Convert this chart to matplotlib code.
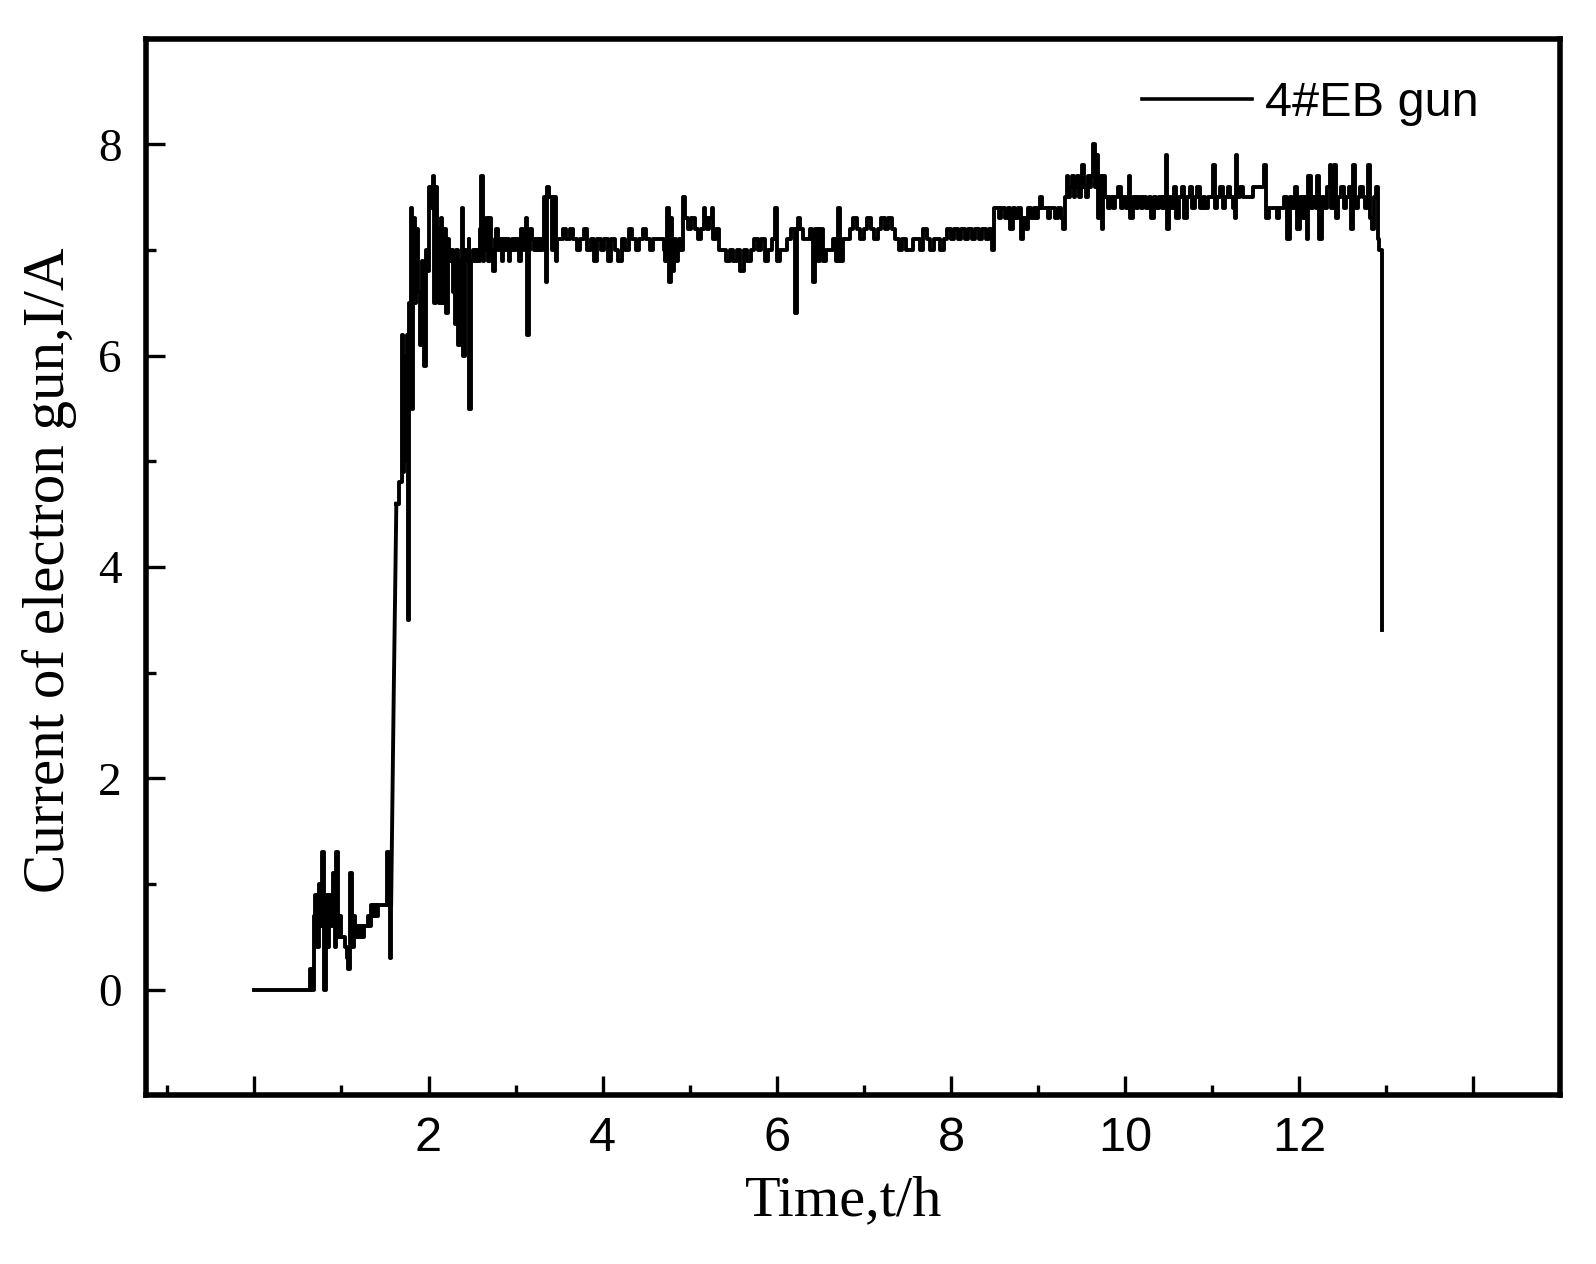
import numpy as np
import matplotlib
matplotlib.use("Agg")
import matplotlib.pyplot as plt
from matplotlib.ticker import FixedLocator

# ---------------- data (time in h, current in A) ----------------
t_start = [0.00, 0.62]
i_start = [0.0, 0.0]

t_warm = [0.64, 0.66, 0.68, 0.70, 0.72, 0.74, 0.76, 0.78, 0.80, 0.82, 0.84, 0.86, 0.88,
          0.90, 0.92, 0.94, 0.96, 0.98, 1.00, 1.02, 1.04, 1.06, 1.08, 1.10, 1.12, 1.14,
          1.16, 1.18, 1.20, 1.22, 1.24, 1.26, 1.28, 1.30, 1.32, 1.34, 1.36, 1.38, 1.40,
          1.42, 1.44, 1.46, 1.48, 1.50, 1.52, 1.54, 1.56, 1.57]
i_warm = [0.2, 0.0, 0.7, 0.9, 0.4, 1.0, 0.6, 1.3, 0.0, 0.9, 0.4, 0.9, 0.6,
          1.1, 0.4, 1.3, 0.5, 0.7, 0.5, 0.5, 0.4, 0.3, 0.2, 1.1, 0.4, 0.7,
          0.5, 0.6, 0.5, 0.6, 0.5, 0.6, 0.6, 0.7, 0.6, 0.8, 0.7, 0.8, 0.7,
          0.8, 0.8, 0.8, 0.8, 0.8, 1.3, 0.8, 0.3, 0.8]

# steep ramp-up of the beam current
t_ramp = [1.57, 1.60, 1.63]
i_ramp = [0.8, 2.8, 4.6]

t_rise = [1.63, 1.66, 1.69, 1.70, 1.71, 1.72, 1.73, 1.75, 1.76, 1.78, 1.80, 1.81,
          1.82, 1.84, 1.86, 1.88, 1.90, 1.92, 1.94, 1.95, 1.97, 1.99, 2.01, 2.03, 2.05,
          2.06, 2.08, 2.10, 2.12, 2.14, 2.16, 2.18, 2.20, 2.22, 2.24, 2.26, 2.28, 2.30,
          2.32, 2.34, 2.36, 2.38, 2.40, 2.42, 2.44, 2.46, 2.47, 2.49, 2.51, 2.53, 2.55,
          2.57, 2.59, 2.60, 2.62, 2.64, 2.66, 2.68, 2.70, 2.72, 2.74, 2.76, 2.78, 2.80,
          2.82, 2.84, 2.86, 2.88, 2.90, 2.92, 2.94, 2.96, 2.98, 3.00, 3.02, 3.04, 3.06,
          3.08, 3.10, 3.12, 3.13, 3.15, 3.17, 3.19, 3.21, 3.23, 3.25, 3.27, 3.29, 3.31,
          3.33, 3.35, 3.36, 3.38, 3.40, 3.42, 3.44, 3.46, 3.48]
i_rise = [4.6, 4.8, 5.0, 6.2, 4.9, 6.0, 5.0, 6.2, 3.5, 6.5, 7.4, 5.5,
          7.3, 6.5, 7.2, 6.6, 6.1, 6.9, 6.7, 5.9, 7.0, 6.8, 7.6, 7.4, 7.7,
          6.5, 7.6, 7.2, 6.5, 7.3, 6.5, 7.2, 6.4, 7.1, 6.9, 7.0, 6.6, 6.3,
          7.0, 6.1, 6.9, 7.4, 6.0, 7.0, 6.9, 7.1, 5.5, 6.9, 7.0, 6.9, 7.0,
          6.9, 7.2, 7.7, 6.9, 7.0, 7.3, 6.9, 7.3, 7.0, 6.8, 7.1, 7.2, 7.0,
          7.1, 6.9, 7.1, 7.0, 7.1, 6.9, 7.0, 7.1, 7.0, 7.1, 7.1, 6.9, 7.2,
          7.0, 7.1, 7.3, 6.2, 7.0, 7.2, 7.1, 7.0, 7.1, 7.0, 7.1, 7.0, 7.1,
          7.5, 6.7, 7.6, 7.5, 7.5, 7.0, 7.5, 6.9, 7.1]

t_mid = [3.50, 3.54, 3.58, 3.62, 3.66, 3.70, 3.74, 3.78, 3.82, 3.86, 3.90, 3.94, 3.98,
         4.02, 4.06, 4.10, 4.14, 4.18, 4.22, 4.26, 4.30, 4.34, 4.38, 4.42, 4.46, 4.50,
         4.54, 4.58, 4.62, 4.66, 4.70, 4.72, 4.74, 4.76, 4.78, 4.80, 4.82, 4.84, 4.86,
         4.88, 4.90, 4.92, 4.94, 4.98, 5.02, 5.06, 5.10, 5.13, 5.16, 5.18, 5.20, 5.22,
         5.25, 5.27, 5.30, 5.34, 5.38, 5.42, 5.46, 5.50, 5.54, 5.58, 5.62, 5.66, 5.70,
         5.74, 5.78, 5.82, 5.86, 5.90, 5.94, 5.98, 6.00, 6.04, 6.08, 6.12, 6.16, 6.20,
         6.21, 6.23, 6.24, 6.27, 6.30, 6.34, 6.38, 6.40, 6.42, 6.44, 6.47, 6.50, 6.53,
         6.56, 6.60, 6.64, 6.68, 6.70, 6.72, 6.76, 6.80, 6.84, 6.88, 6.92, 6.96, 7.00,
         7.04, 7.08, 7.12, 7.16, 7.20, 7.24, 7.28, 7.32, 7.36, 7.40, 7.44, 7.48, 7.52,
         7.56, 7.60, 7.64, 7.68, 7.72, 7.76, 7.80, 7.84, 7.88, 7.92, 7.96, 8.00, 8.04,
         8.08, 8.12, 8.16, 8.20, 8.24, 8.28, 8.32, 8.36, 8.40, 8.44, 8.47]
i_mid = [7.1, 7.2, 7.1, 7.2, 7.1, 7.0, 7.1, 7.2, 7.0, 7.1, 6.9, 7.1, 7.0,
         7.1, 6.9, 7.1, 7.0, 6.9, 7.1, 7.0, 7.2, 7.1, 7.0, 7.1, 7.2, 7.1,
         7.0, 7.1, 7.1, 7.1, 7.0, 6.9, 7.4, 6.7, 7.3, 6.8, 7.1, 6.9, 7.0,
         7.1, 7.0, 7.5, 7.3, 7.2, 7.3, 7.2, 7.1, 7.2, 7.4, 7.3, 7.2, 7.3,
         7.4, 7.1, 7.2, 7.0, 7.0, 6.9, 7.0, 6.9, 7.0, 6.8, 7.0, 6.9, 7.0,
         7.1, 7.0, 7.1, 6.9, 7.0, 7.1, 7.4, 6.9, 7.0, 7.0, 7.1, 7.2, 7.2,
         6.4, 7.2, 7.3, 7.2, 7.1, 7.1, 7.2, 7.1, 6.7, 7.2, 6.9, 7.2, 6.9,
         7.0, 7.0, 7.1, 6.9, 7.4, 6.9, 7.1, 7.1, 7.2, 7.3, 7.2, 7.1, 7.2,
         7.3, 7.2, 7.1, 7.2, 7.3, 7.2, 7.3, 7.2, 7.1, 7.0, 7.1, 7.0, 7.0,
         7.1, 7.1, 7.0, 7.2, 7.1, 7.0, 7.1, 7.1, 7.0, 7.1, 7.2, 7.1, 7.2,
         7.1, 7.2, 7.1, 7.2, 7.1, 7.2, 7.1, 7.2, 7.1, 7.2, 7.0]

t_late = [8.49, 8.52, 8.55, 8.58, 8.62, 8.65, 8.68, 8.71, 8.74, 8.77, 8.80, 8.83, 8.86,
          8.89, 8.92, 8.95, 8.98, 9.00, 9.02, 9.05, 9.08, 9.11, 9.14, 9.17, 9.20, 9.23,
          9.26, 9.29, 9.31, 9.33, 9.35, 9.37, 9.39, 9.41, 9.43, 9.45, 9.47, 9.49, 9.51,
          9.53, 9.55, 9.57, 9.59, 9.61, 9.63, 9.65, 9.67, 9.69, 9.71, 9.73, 9.75, 9.77,
          9.80, 9.83, 9.86, 9.89, 9.92, 9.95, 9.98, 10.01, 10.04, 10.06, 10.09, 10.12,
          10.15, 10.18, 10.21, 10.24, 10.27, 10.30, 10.33, 10.36, 10.39, 10.42, 10.45,
          10.47, 10.48, 10.50, 10.53, 10.56, 10.59, 10.62, 10.65, 10.68, 10.71, 10.74,
          10.77, 10.80, 10.83, 10.86, 10.89, 10.92, 10.95, 10.98, 11.01, 11.03, 11.06,
          11.09, 11.12, 11.15, 11.18, 11.21, 11.24, 11.26, 11.27, 11.29, 11.32, 11.35,
          11.38, 11.41, 11.44, 11.47, 11.50, 11.53, 11.56, 11.60, 11.62, 11.65, 11.68,
          11.71, 11.74, 11.77, 11.80, 11.83, 11.86, 11.89, 11.92, 11.95, 11.98, 12.01,
          12.04, 12.07, 12.09, 12.10, 12.13, 12.16, 12.19, 12.21, 12.23, 12.26, 12.29,
          12.32, 12.35, 12.37, 12.40, 12.42, 12.45, 12.48, 12.51, 12.54, 12.57, 12.60,
          12.62, 12.64, 12.67, 12.70, 12.73, 12.76, 12.79, 12.81, 12.84, 12.86, 12.88,
          12.90, 12.92, 12.95, 12.95]
i_late = [7.4, 7.4, 7.3, 7.4, 7.3, 7.4, 7.2, 7.4, 7.3, 7.4, 7.1, 7.3, 7.2,
          7.4, 7.3, 7.4, 7.3, 7.4, 7.5, 7.4, 7.4, 7.3, 7.4, 7.4, 7.3, 7.4,
          7.3, 7.2, 7.5, 7.7, 7.5, 7.6, 7.7, 7.5, 7.6, 7.7, 7.5, 7.6, 7.8,
          7.6, 7.5, 7.7, 7.6, 7.7, 8.0, 7.6, 7.9, 7.3, 7.7, 7.2, 7.7, 7.5,
          7.4, 7.5, 7.4, 7.5, 7.6, 7.4, 7.5, 7.4, 7.7, 7.3, 7.5, 7.4,
          7.5, 7.4, 7.5, 7.4, 7.5, 7.3, 7.5, 7.4, 7.5, 7.4, 7.5,
          7.9, 7.2, 7.5, 7.4, 7.6, 7.3, 7.5, 7.6, 7.3, 7.5, 7.6,
          7.4, 7.5, 7.6, 7.4, 7.5, 7.4, 7.5, 7.5, 7.8, 7.4, 7.5,
          7.6, 7.4, 7.5, 7.6, 7.5, 7.4, 7.3, 7.9, 7.5, 7.6, 7.5,
          7.5, 7.5, 7.5, 7.6, 7.6, 7.6, 7.6, 7.8, 7.3, 7.4, 7.4,
          7.4, 7.3, 7.4, 7.4, 7.5, 7.1, 7.5, 7.4, 7.6, 7.2, 7.5,
          7.3, 7.5, 7.1, 7.7, 7.4, 7.5, 7.4, 7.7, 7.1, 7.5, 7.4,
          7.6, 7.8, 7.4, 7.8, 7.3, 7.5, 7.6, 7.4, 7.5, 7.6, 7.2,
          7.8, 7.4, 7.5, 7.6, 7.5, 7.4, 7.8, 7.3, 7.2, 7.5, 7.6,
          7.1, 7.0, 7.0, 3.4]

series_label = "4#EB gun"
x_label = "Time,t/h"
y_label = "Current of electron gun,I/A"
x_major = [0, 2, 4, 6, 8, 10, 12, 14]
x_major_labels = ["", "2", "4", "6", "8", "10", "12", ""]
x_minor = [-1, 1, 3, 5, 7, 9, 11, 13]
y_major = [0, 2, 4, 6, 8]
y_minor = [1, 3, 5, 7]

t_before = np.array(t_start + t_warm)
i_before = np.array(i_start + i_warm)
t_after = np.array(t_rise + t_mid + t_late)
i_after = np.array(i_rise + i_mid + i_late)

# ---------------- figure ----------------
W, H = 1596, 1264
fig = plt.figure(figsize=(W / 100, H / 100), dpi=100)
fig.patch.set_facecolor("white")
ax = fig.add_axes([145.6 / W, 1 - 1095.3 / H, (1560.4 - 145.6) / W, (1095.3 - 38.7) / H])

LW = 2.8
ax.plot(t_before, i_before, color="black", lw=LW, drawstyle="steps-post")
ax.plot(t_ramp, i_ramp, color="black", lw=LW)
ax.plot(t_after, i_after, color="black", lw=LW, drawstyle="steps-post",
        label=series_label)

ax.set_xlim(-1.25, 15.0)
ax.set_ylim(-1, 9)

ax.xaxis.set_major_locator(FixedLocator(x_major))
ax.xaxis.set_minor_locator(FixedLocator(x_minor))
ax.set_xticklabels(x_major_labels)
ax.yaxis.set_major_locator(FixedLocator(y_major))
ax.yaxis.set_minor_locator(FixedLocator(y_minor))

ax.tick_params(axis="both", which="both", direction="in", top=False, right=False,
               color="black")
ax.tick_params(axis="both", which="major", length=14, width=2.4)
ax.tick_params(axis="both", which="minor", length=7, width=2.4)
ax.tick_params(axis="x", which="major", pad=15, labelsize=35)
ax.tick_params(axis="y", which="major", pad=17, labelsize=34)

for lab in ax.get_xticklabels():
    lab.set_fontfamily("Liberation Sans")
for lab in ax.get_yticklabels():
    lab.set_fontfamily("Liberation Serif")

for sp in ax.spines.values():
    sp.set_linewidth(4.0)
    sp.set_color("black")

ax.set_xlabel(x_label, fontsize=42, family="Liberation Serif")
ax.set_ylabel(y_label, fontsize=42.5, family="Liberation Serif")
ax.xaxis.set_label_coords(0.4937, -0.076)
ax.yaxis.set_label_coords(-0.0485, 0.497)

leg = ax.legend(loc="center left", bbox_to_anchor=(1142 / W, 1 - 104 / H),
                bbox_transform=fig.transFigure, frameon=False, borderpad=0,
                borderaxespad=0, handlelength=2.26, handletextpad=0.27,
                prop={"family": "Liberation Sans", "size": 35})
for ln in leg.get_lines():
    ln.set_linewidth(2.6)

fig.savefig("out.png", dpi=100, facecolor="white")
